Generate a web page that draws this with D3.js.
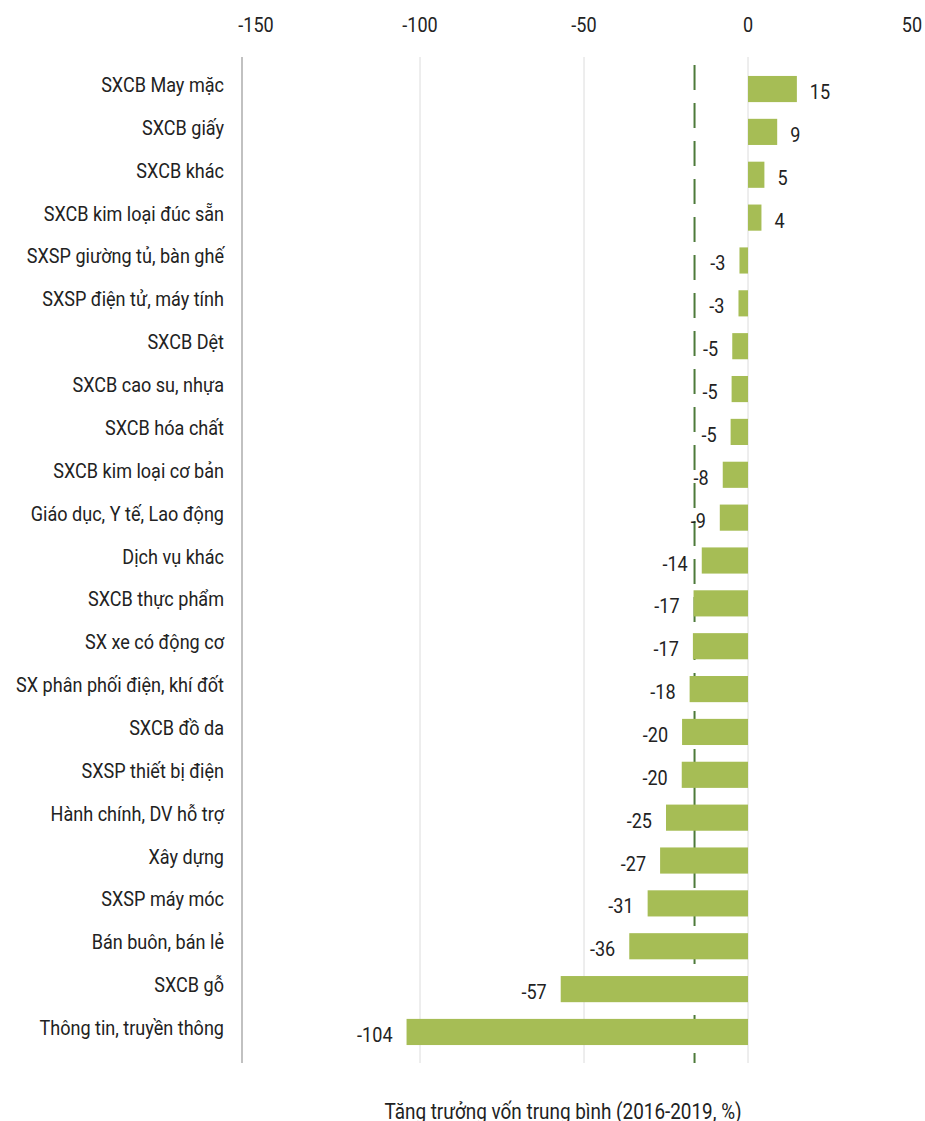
<!DOCTYPE html>
<html>
<head>
<meta charset="utf-8">
<script src="https://cdn.jsdelivr.net/npm/d3@7"></script>
<style>
  body { margin: 0; background: #fff; }
  svg text { font-family: "Roboto", sans-serif; fill: #222; }
</style>
</head>
<body>
<svg width="925" height="1121"></svg>
<script>
var categories = ["SXCB May mặc", "SXCB giấy", "SXCB khác", "SXCB kim loại đúc sẵn",
  "SXSP giường tủ, bàn ghế", "SXSP điện tử, máy tính", "SXCB Dệt", "SXCB cao su, nhựa",
  "SXCB hóa chất", "SXCB kim loại cơ bản", "Giáo dục, Y tế, Lao động", "Dịch vụ khác",
  "SXCB thực phẩm", "SX xe có động cơ", "SX phân phối điện, khí đốt", "SXCB đồ da",
  "SXSP thiết bị điện", "Hành chính, DV hỗ trợ", "Xây dựng", "SXSP máy móc",
  "Bán buôn, bán lẻ", "SXCB gỗ", "Thông tin, truyền thông"];
var values = [14.9, 8.9, 5.0, 4.1, -2.6, -2.9, -4.8, -5.0, -5.3, -7.7, -8.6, -14.1,
  -16.6, -16.8, -17.8, -20.1, -20.2, -25.0, -26.8, -30.6, -36.2, -57.1, -104.1];
var xTicks = [-150, -100, -50, 0, 50];
var gridTicks = [-100, -50, 0];
var avgValue = -16.3;
var axisTitle = "Tăng trưởng vốn trung bình (2016-2019, %)";

var svg = d3.select("svg");
var barColor = "#a6bd55";
var squeeze = 0.86;  // narrow the text to look like the condensed original

var x = d3.scaleLinear().domain([-150, 50]).range([256, 912]);
var y = d3.scaleBand().domain(categories).range([67.6, 1053.4])
    .paddingInner(0.39).paddingOuter(0.195);

var gridTop = 57, gridBottom = 1063;

function place(px, py) {
  return "translate(" + px + "," + py + ") scale(" + squeeze + ",1)";
}

// grid
svg.append("g").selectAll("line").data(gridTicks).enter().append("line")
    .attr("x1", d => x(d)).attr("x2", d => x(d))
    .attr("y1", gridTop).attr("y2", gridBottom)
    .style("stroke", "#dcdcdc").style("stroke-width", "1px");

// category axis line
svg.append("line").attr("x1", 242).attr("x2", 242)
    .attr("y1", gridTop).attr("y2", gridBottom)
    .style("stroke", "#a0a0a0").style("stroke-width", "1.3px");

// top tick labels
svg.append("g").selectAll("text").data(xTicks).enter().append("text")
    .attr("transform", d => place(x(d), 32))
    .attr("text-anchor", "middle").style("font-size", "21px")
    .text(d => d);

// average dashed line (behind the bars)
svg.append("line").attr("x1", x(avgValue)).attr("x2", x(avgValue))
    .attr("y1", gridTop + 8).attr("y2", gridBottom)
    .style("stroke", "#4d7a3a").style("stroke-width", "2px")
    .style("stroke-dasharray", "25,13");

// bars
svg.append("g").selectAll("rect").data(values).enter().append("rect")
    .attr("x", d => x(Math.min(0, d)))
    .attr("width", d => Math.abs(x(d) - x(0)))
    .attr("y", (d, i) => y(categories[i]))
    .attr("height", y.bandwidth())
    .style("fill", barColor);

// category labels
svg.append("g").selectAll("text").data(categories).enter().append("text")
    .attr("transform", d => place(224, y(d) + y.bandwidth() / 2 + 3))
    .attr("text-anchor", "end").style("font-size", "21px")
    .text(d => d);

// value labels
svg.append("g").selectAll("text").data(values).enter().append("text")
    .attr("transform", (d, i) => place(d >= 0 ? x(d) + 13 : x(d) - 14,
                                       y(categories[i]) + y.bandwidth() / 2 + 10))
    .attr("text-anchor", d => d >= 0 ? "start" : "end")
    .style("font-size", "21px")
    .text(d => Math.round(d));

// axis title
svg.append("text").attr("transform", place(563, 1119))
    .attr("text-anchor", "middle").style("font-size", "22px")
    .text(axisTitle);
</script>
</body>
</html>
